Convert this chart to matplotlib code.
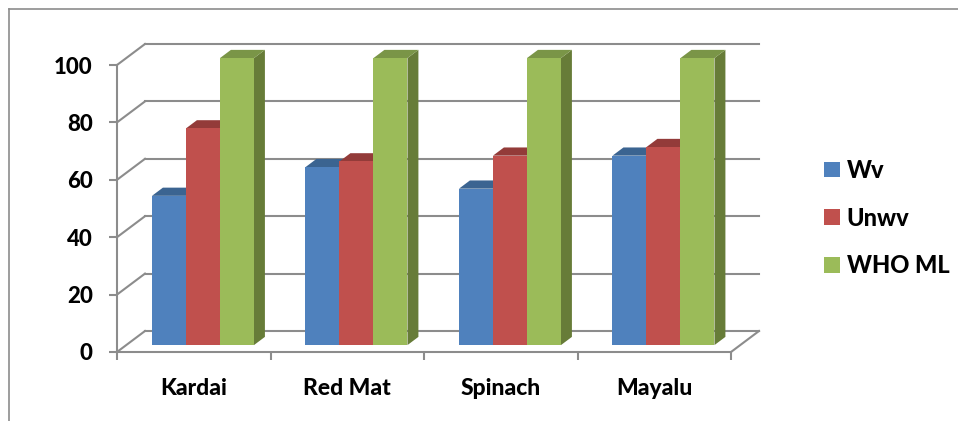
import matplotlib
matplotlib.use("Agg")
import matplotlib.pyplot as plt
from matplotlib.patches import Polygon, Patch
from matplotlib.lines import Line2D

# Data
categories = ["Kardai", "Red Mat", "Spinach", "Mayalu"]
series_names = ["Wv", "Unwv", "WHO ML"]
wv = [52, 62, 54.5, 66]
unwv = [75.5, 64, 66, 69]
who_ml = [100, 100, 100, 100]
y_ticks = [0, 20, 40, 60, 80, 100]

# Colours: front, top, side faces
front_cols = ["#4F81BD", "#C0504D", "#9BBB59"]
top_cols = ["#3B6491", "#933B39", "#7A9547"]
side_cols = ["#3A5F8C", "#8E3734", "#677C38"]
grid_col = "#8C8C8C"

FONT = ["Lato", "DejaVu Sans"]
WEIGHT = "black"
plt.rcParams["font.family"] = FONT

W, H = 958, 421
fig = plt.figure(figsize=(W / 100, H / 100), dpi=100)
fig.patch.set_facecolor("white")

# front plane of the plot box (pixels)
x0, x1, yb, yt = 117, 731, 352, 65
ax = fig.add_axes([x0 / W, (H - yb) / H, (x1 - x0) / W, (yb - yt) / H])
ax.set_xlim(-0.5, len(categories) - 0.5)
ax.set_ylim(0, 100)
ax.set_facecolor("none")

px_x = (x1 - x0) / len(categories)   # pixels per category
px_y = (yb - yt) / 100.0             # pixels per value unit
DX = 28 / px_x                       # full depth shift in x (data units)
DY = 21 / px_y                       # full depth shift in y (data units)


def proj(x, v, z):
    return (x + z * DX, v + z * DY)


lw = 1.5
# back wall gridlines
for t in y_ticks:
    xa, ya = proj(-0.5, t, 1)
    xb, yb2 = proj(len(categories) - 0.5, t, 1)
    ax.add_line(Line2D([xa, xb], [ya, yb2], color=grid_col, lw=lw, clip_on=False, zorder=1))
    # side wall diagonal
    xc, yc = proj(-0.5, t, 0)
    ax.add_line(Line2D([xc, xa], [yc, ya], color=grid_col, lw=lw, clip_on=False, zorder=1))
# floor right edge
xa, ya = proj(len(categories) - 0.5, 0, 0)
xb, yb2 = proj(len(categories) - 0.5, 0, 1)
ax.add_line(Line2D([xa, xb], [ya, yb2], color=grid_col, lw=lw, clip_on=False, zorder=1))

# bars
bar_w = 0.2215
z_front, z_back = 0.33, 0.72
all_series = [wv, unwv, who_ml]
for i in range(len(categories)):
    for s, vals in enumerate(all_series):
        v = vals[i]
        left = i + (s - 1) * bar_w - bar_w / 2
        right = left + bar_w
        fl, fr = proj(left, 0, z_front), proj(right, 0, z_front)
        tl, tr = proj(left, v, z_front), proj(right, v, z_front)
        btl, btr = proj(left, v, z_back), proj(right, v, z_back)
        bbr = proj(right, 0, z_back)
        z = 3 + i * 3 + s
        ax.add_patch(Polygon([fr, tr, btr, bbr], closed=True, fc=side_cols[s],
                             ec="none", clip_on=False, zorder=z))
        ax.add_patch(Polygon([tl, tr, btr, btl], closed=True, fc=top_cols[s],
                             ec="none", clip_on=False, zorder=z))
        ax.add_patch(Polygon([fl, fr, tr, tl], closed=True, fc=front_cols[s],
                             ec="none", clip_on=False, zorder=z + 0.5))

# axes: front left axis and floor front edge
for side in ["top", "right"]:
    ax.spines[side].set_visible(False)
for side in ["left", "bottom"]:
    ax.spines[side].set_color(grid_col)
    ax.spines[side].set_linewidth(lw)
    ax.spines[side].set_zorder(50)

ax.set_yticks(y_ticks)
ax.set_yticklabels([str(t) for t in y_ticks], fontsize=16, fontweight=WEIGHT)
ax.tick_params(axis="y", direction="out", length=5.5, width=lw, color=grid_col, pad=12)

ax.set_xticks([b - 0.5 for b in range(len(categories) + 1)])
ax.set_xticklabels([])
ax.set_xticks(range(len(categories)), minor=True)
ax.set_xticklabels(categories, minor=True, fontsize=16.5, fontweight=WEIGHT)
ax.tick_params(axis="x", which="major", direction="out", length=6, width=lw, color=grid_col)
ax.tick_params(axis="x", which="minor", length=0, pad=19)

# legend
handles = [Patch(facecolor=c, edgecolor="none") for c in front_cols]
fig.legend(handles, series_names, loc="center left",
           bbox_to_anchor=(803 / W, 1 - 218 / H), frameon=False,
           prop={"family": FONT, "weight": WEIGHT, "size": 17},
           handlelength=0.65, handleheight=0.65, handletextpad=0.3, labelspacing=1.05)

# chart area border
fig.add_artist(Line2D([9 / W, 9 / W], [0, 1 - 9 / H], color="#8C8C8C", lw=1.2))
fig.add_artist(Line2D([9 / W, 1], [1 - 9 / H, 1 - 9 / H], color="#8C8C8C", lw=1.2))

fig.savefig("out.png", dpi=100, facecolor="white")
